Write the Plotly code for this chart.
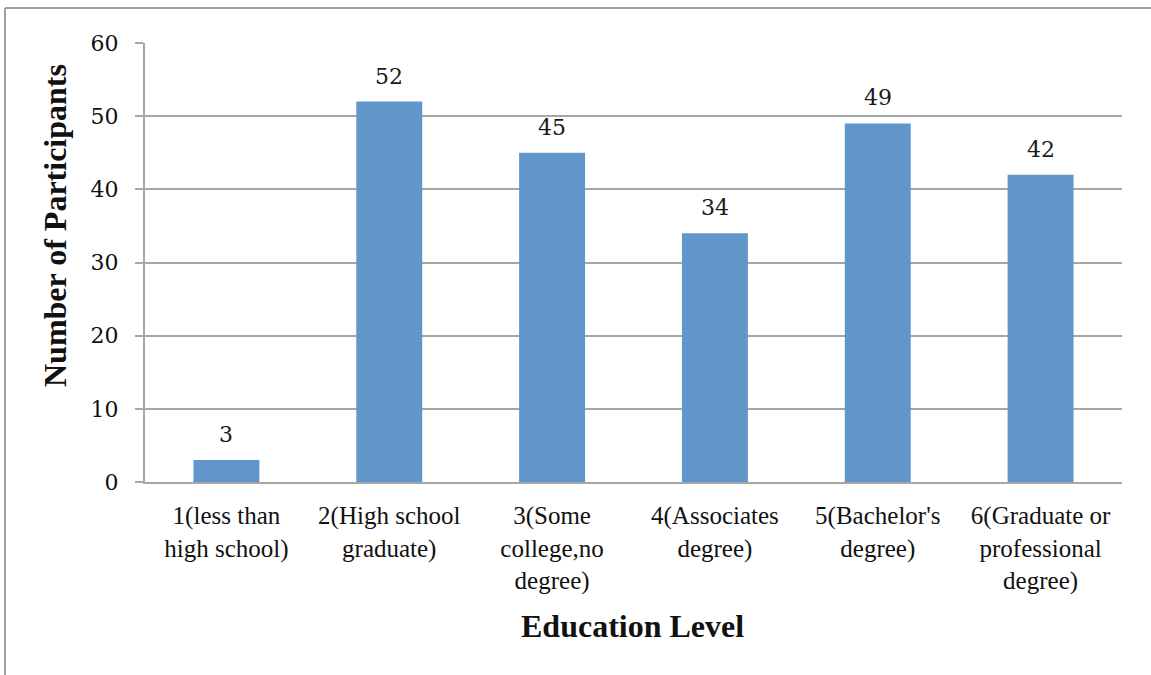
import plotly.graph_objects as go

categories = ["1(less than<br>high school)", "2(High school<br>graduate)", "3(Some<br>college,no<br>degree)",
              "4(Associates<br>degree)", "5(Bachelor's<br>degree)", "6(Graduate or<br>professional<br>degree)"]
participants = [3, 52, 45, 34, 49, 42]
y_ticks = [0, 10, 20, 30, 40, 50, 60]

W, H = 1151, 675
L, R, T, B = 145, 29, 43, 193
pw, ph = W - L - R, H - T - B

SERIF = "Liberation Serif, Times New Roman, serif"

fig = go.Figure(go.Bar(
    x=categories, y=participants,
    marker=dict(color="#6096c9", line=dict(width=0)),
    hoverinfo="x+y",
))

for c, v in zip(categories, participants):
    fig.add_annotation(x=c, y=v, text=str(v), showarrow=False, yanchor="bottom", yshift=11,
                       font=dict(family="DejaVu Serif", size=22, color="#1a1a1a"))

# Axis titles placed as annotations
fig.add_annotation(xref="paper", yref="paper", x=(632 - L) / pw, y=-(626 - (T + ph)) / ph,
                   text="<b>Education Level</b>", showarrow=False, xanchor="center", yanchor="middle",
                   font=dict(family=SERIF, size=32, color="#111111"))
fig.add_annotation(xref="paper", yref="paper", x=(55 - L) / pw, y=((T + ph) - 226) / ph,
                   text="<b>Number of Participants</b>", showarrow=False, textangle=-90,
                   xanchor="center", yanchor="middle",
                   font=dict(family=SERIF, size=32, color="#111111"))

fig.update_layout(
    width=W, height=H,
    margin=dict(l=L, r=R, t=T, b=B),
    paper_bgcolor="white", plot_bgcolor="white",
    bargap=0.595,
    showlegend=False,
    font=dict(family=SERIF, color="#111111"),
    xaxis=dict(
        showgrid=False, showline=True, linecolor="#a6a6a6", linewidth=2,
        ticks="", ticklabelstandoff=10,
        tickfont=dict(family=SERIF, size=25, color="#111111"),
    ),
    yaxis=dict(
        range=[0, 60], tickvals=y_ticks, showgrid=True, gridcolor="#a6a6a6", gridwidth=2,
        showline=True, linecolor="#a6a6a6", linewidth=2, zeroline=False,
        ticks="outside", ticklen=8, tickcolor="#a6a6a6", tickwidth=2, ticklabelstandoff=12,
        tickfont=dict(family="DejaVu Serif", size=22, color="#111111"),
    ),
)

# Outer frame (top and left edges)
x_left = (5 - L) / pw
y_top = 1 + (T - 8) / ph
y_bot = -(H - T - ph) / ph
fig.add_shape(type="line", xref="paper", yref="paper", x0=x_left, x1=(W - L) / pw + 0.01, y0=y_top, y1=y_top,
              line=dict(color="#a0a0a0", width=2))
fig.add_shape(type="line", xref="paper", yref="paper", x0=x_left, x1=x_left, y0=y_top, y1=y_bot,
              line=dict(color="#a0a0a0", width=2))

fig.write_html("out.html", config={"displayModeBar": False},
               post_script="document.body.style.margin='0';")
